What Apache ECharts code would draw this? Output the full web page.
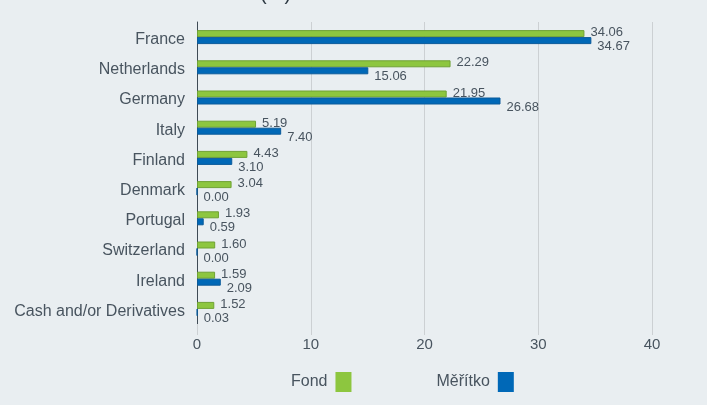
<!DOCTYPE html>
<html><head><meta charset="utf-8">
<script src="https://cdn.jsdelivr.net/npm/echarts@6/dist/echarts.min.js"></script>
<style>html,body{margin:0;padding:0;background:#e9eef1;}#c{width:707px;height:405px;}</style>
</head><body><div id="c"></div>
<script>
const categories = ["France","Netherlands","Germany","Italy","Finland","Denmark","Portugal","Switzerland","Ireland","Cash and/or Derivatives"];
const fond = [34.06,22.29,21.95,5.19,4.43,3.04,1.93,1.60,1.59,1.52];
const meritko = [34.67,15.06,26.68,7.40,3.10,0.00,0.59,0.00,2.09,0.03];
const xTicks = [0,10,20,30,40];

const chart = echarts.init(document.getElementById('c'), null, {renderer:'canvas'});
const txt = '#48545f';
chart.setOption({
  backgroundColor:'#e9eef1',
  animation:false,
  textStyle:{fontFamily:'Liberation Sans, Arial, sans-serif'},
  graphic:[{type:'text', left:260, top:-16, style:{text:'(%)', font:'20px Liberation Sans', fill:'#2e3a44'}}],
  grid:{left:197, right:55, top:22, bottom:81, containLabel:false},
  legend:{
    data:['Fond','Měřítko'], left:291, top:372, align:'right', itemWidth:16, itemHeight:20, itemGap:85,
    icon:'rect', itemStyle:{borderWidth:0}, padding:0,
    textStyle:{color:txt, fontSize:16, fontFamily:'Liberation Sans', padding:[0,3,0,0]}
  },
  xAxis:{
    type:'value', min:0, max:40, interval:10,
    axisLine:{show:false},
    axisTick:{show:true, length:11, lineStyle:{color:'#ccd0d3'}},
    splitLine:{show:true, lineStyle:{color:'#ccd0d3'}},
    axisLabel:{color:txt, fontSize:15, margin:13, fontFamily:'Liberation Sans',
      formatter:(v)=> xTicks.includes(v)? String(v):''}
  },
  yAxis:{
    type:'category', data:categories, inverse:true,
    axisLine:{show:true, lineStyle:{color:'#3f4b55'}},
    axisTick:{show:false},
    axisLabel:{margin:12, formatter:(v)=>'{a|'+v+'}',
      rich:{a:{color:txt, fontSize:16, fontFamily:'Liberation Sans', padding:[5,0,0,0]}}}
  },
  series:[
    {name:'Fond', type:'bar', data:fond, barWidth:7, barGap:'0%',
      itemStyle:{color:'#8dc63f', borderColor:'#6fa234', borderWidth:1},
      label:{show:true, position:'right', distance:6, offset:[0,-1], color:txt, fontSize:13, fontFamily:'Liberation Sans', formatter:(p)=>p.value.toFixed(2)}},
    {name:'Měřítko', type:'bar', data:meritko, barWidth:7, barGap:'0%',
      itemStyle:{color:'#0068b7', borderColor:'#0a5a9a', borderWidth:1},
      label:{show:true, position:'right', distance:6, offset:[0,6], color:txt, fontSize:13, fontFamily:'Liberation Sans', formatter:(p)=>p.value.toFixed(2)}}
  ]
});
</script></body></html>
